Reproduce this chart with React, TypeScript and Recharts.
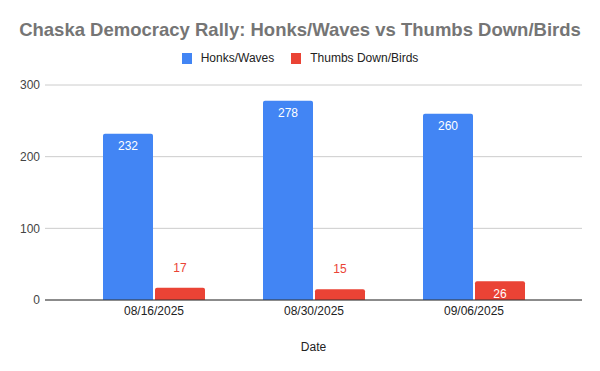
import React from "react";
import { BarChart, Bar, XAxis, YAxis, CartesianGrid, LabelList } from "recharts";

const dates = ["08/16/2025", "08/30/2025", "09/06/2025"];
const honksWaves = [232, 278, 260];
const thumbsDown = [17, 15, 26];
const yTicks = [0, 100, 200, 300];

const data = dates.map((d, i) => ({ date: d, honks: honksWaves[i], thumbs: thumbsDown[i] }));

const BLUE = "#4285F4";
const RED = "#EA4335";
const FONT = "'Liberation Sans', Arial, sans-serif";

const makeLabel = (color: string) => (props: any) => {
  const { x, y, width, height, value } = props;
  const inside = height >= 18;
  const cx = x + width / 2;
  const cy = inside ? y + 12.5 : y - 20;
  return (
    <text
      x={cx}
      y={cy}
      textAnchor="middle"
      dominantBaseline="central"
      fill={inside ? "#ffffff" : color}
      fontSize={12}
      fontFamily={FONT}
    >
      {value}
    </text>
  );
};

export default function App() {
  return (
    <div style={{ position: "relative", width: 600, height: 371, background: "#fff", fontFamily: FONT }}>
      <style>{`body{margin:0}`}</style>
      <div
        style={{
          position: "absolute",
          top: 18,
          left: 0,
          width: 600,
          textAlign: "center",
          fontSize: 18.5,
          fontWeight: 700,
          color: "#757575",
          lineHeight: "24px",
        }}
      >
        Chaska Democracy Rally: Honks/Waves vs Thumbs Down/Birds
      </div>
      <div
        style={{
          position: "absolute",
          top: 51,
          left: 0,
          width: 600,
          display: "flex",
          justifyContent: "center",
          fontSize: 12,
          color: "#222",
          lineHeight: "14px",
        }}
      >
        <div style={{ display: "flex", alignItems: "center", marginRight: 17 }}>
          <span style={{ width: 10, height: 11, background: BLUE, marginRight: 9, display: "inline-block" }} />
          Honks/Waves
        </div>
        <div style={{ display: "flex", alignItems: "center" }}>
          <span style={{ width: 10, height: 11, background: RED, marginRight: 9, display: "inline-block" }} />
          Thumbs Down/Birds
        </div>
      </div>
      <div style={{ position: "absolute", top: 0, left: 0 }}>
        <BarChart
          width={600}
          height={371}
          data={data}
          margin={{ top: 85, right: 18, bottom: 0, left: 0 }}
          barSize={50}
          barGap={2}
        >
          <CartesianGrid vertical={false} stroke="#cccccc" />
          <XAxis
            dataKey="date"
            height={71}
            padding={{ left: 29, right: 28 }}
            axisLine={{ stroke: "#333333" }}
            tickLine={false}
            tickSize={6}
            tickMargin={0}
            tick={{ fontSize: 12, fill: "#222222", fontFamily: FONT }}
            label={{ value: "Date", position: "insideBottom", offset: 20, fontSize: 12, fill: "#222222", fontFamily: FONT }}
          />
          <YAxis
            width={45}
            domain={[0, 300]}
            ticks={yTicks}
            axisLine={false}
            tickLine={false}
            tickSize={5}
            tickMargin={0}
            tick={{ fontSize: 12, fill: "#444444", fontFamily: FONT }}
          />
          <Bar dataKey="honks" fill={BLUE} radius={[2, 2, 0, 0]} isAnimationActive={false}>
            <LabelList dataKey="honks" content={makeLabel(BLUE)} />
          </Bar>
          <Bar dataKey="thumbs" fill={RED} radius={[2, 2, 0, 0]} isAnimationActive={false}>
            <LabelList dataKey="thumbs" content={makeLabel(RED)} />
          </Bar>
        </BarChart>
      </div>
    </div>
  );
}
